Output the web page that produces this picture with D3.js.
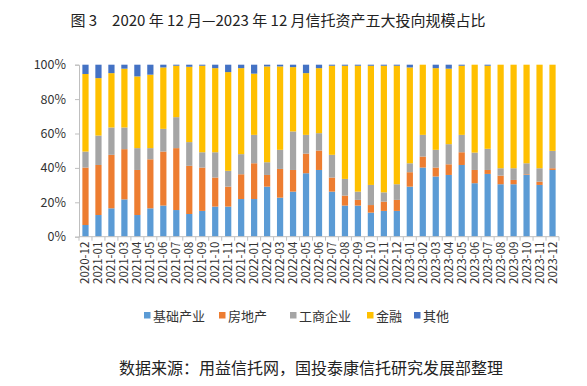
<!DOCTYPE html>
<html>
<head>
<meta charset="utf-8">
<script src="https://cdn.jsdelivr.net/npm/d3@7/dist/d3.min.js"></script>
<style>
html,body{margin:0;padding:0;background:#fff;}
svg{display:block;font-family:"Noto Sans CJK SC","Noto Sans",sans-serif;}
</style>
</head>
<body>
<svg id="chart" width="587" height="386"></svg>
<script>
const months = ["2020-12","2021-01","2021-02","2021-03","2021-04","2021-05","2021-06","2021-07","2021-08","2021-09","2021-10","2021-11","2021-12","2022-01","2022-02","2022-03","2022-04","2022-05","2022-06","2022-07","2022-08","2022-09","2022-10","2022-11","2022-12","2023-01","2023-02","2023-03","2023-04","2023-05","2023-06","2023-07","2023-08","2023-09","2023-10","2023-11","2023-12"];
const seriesNames = ["基础产业","房地产","工商企业","金融","其他"];
const basic    = [6.8,12.6,16.5,21.7,12.6,16.5,18.1,15.5,13.2,15.0,17.5,17.5,21.9,21.9,29.1,22.7,26.2,36.9,38.8,26.2,18.1,18.1,14.0,15.0,15.0,29.1,40.2,35.0,35.9,41.7,31.1,36.5,30.5,30.5,35.9,30.1,38.8];
const realty   = [33.4,29.1,31.1,29.2,26.2,28.5,31.4,36.0,28.0,25.2,16.9,11.6,14.4,20.8,6.8,16.7,12.6,11.4,11.3,8.2,5.8,3.3,4.4,5.4,6.4,8.4,6.4,5.2,6.2,7.4,7.7,2.3,5.0,2.5,0.4,1.9,1.0];
const industry = [9.3,17.1,15.9,12.6,12.7,6.5,13.2,18.0,13.8,8.9,14.7,9.2,11.7,16.5,7.4,11.1,22.4,10.9,10.1,13.2,9.7,4.8,11.7,5.4,9.1,5.2,12.6,10.3,11.7,10.1,10.1,12.3,4.3,6.8,6.4,7.8,10.1];
const finance  = [45.1,33.4,31.6,34.2,41.7,42.7,35.7,29.9,43.8,50.3,48.9,57.4,50.0,35.6,55.7,48.5,37.4,35.9,37.8,51.8,65.8,73.2,69.3,73.6,68.9,55.7,40.8,47.5,43.9,40.2,51.1,48.3,60.2,60.2,57.3,60.2,50.1];
const other    = [5.4,7.8,4.9,2.3,6.8,5.8,1.6,0.6,1.2,0.6,2.0,4.3,2.0,5.2,1.0,1.0,1.4,4.9,2.0,0.6,0.6,0.6,0.6,0.6,0.6,1.6,0.0,2.0,2.3,0.6,0.0,0.6,0.0,0.0,0.0,0.0,0.0];
const yTicks = [0,20,40,60,80,100];
const colors = ["#5B9BD5","#ED7D31","#A5A5A5","#FFC000","#4472C4"];
const titleText = "图 3　2020 年 12 月—2023 年 12 月信托资产五大投向规模占比";
const sourceText = "数据来源：用益信托网，国投泰康信托研究发展部整理";

const seriesArrays = [basic, realty, industry, finance, other];
const table = months.map((m,i)=>{
  const row = {month:m};
  seriesNames.forEach((s,j)=>row[s]=seriesArrays[j][i]);
  return row;
});

const svg = d3.select("#chart");
const L=79, R=559, T=64.7, B=236.7;

const x = d3.scaleBand().domain(months).range([L,R]).paddingInner(0.52).paddingOuter(0.26);
const y = d3.scaleLinear().domain([0,100]).range([B,T]);

const stack = d3.stack().keys(seriesNames);
const stacked = stack(table);

svg.append("text").attr("x",278).attr("y",26).attr("text-anchor","middle")
  .attr("font-size",15).attr("fill","#222").text(titleText);

const g = svg.append("g");
g.selectAll("g.s").data(stacked).join("g").attr("fill",(d,i)=>colors[i])
  .selectAll("rect").data(d=>d).join("rect")
  .attr("x",d=>x(d.data.month)).attr("width",x.bandwidth())
  .attr("y",d=>y(d[1])).attr("height",d=>Math.max(0,y(d[0])-y(d[1])));

// y axis
const yAxis = d3.axisLeft(y).tickValues(yTicks).tickFormat(d=>d+"%").tickSize(4).tickPadding(9);
const ya = svg.append("g").attr("transform",`translate(${L},0)`).call(yAxis);
ya.select(".domain").attr("stroke","#BFBFBF");
ya.selectAll(".tick line").attr("stroke","#BFBFBF");
ya.selectAll(".tick text").attr("font-size",12.5).attr("fill","#333").attr("font-family","'Noto Sans CJK SC',sans-serif");

// x axis
const xa = svg.append("g").attr("transform",`translate(0,${B})`);
xa.append("line").attr("x1",L).attr("x2",R).attr("stroke","#BFBFBF");
const step = x.step();
const bounds = months.map((m,i)=>L + x.paddingOuter()*0 + i*0).slice(0,0);
const tickPos = d3.range(months.length+1).map(i=> i===0?L:(i===months.length?R:(x(months[i]) - (x.step()-x.bandwidth())/2)));
xa.selectAll("line.t").data(tickPos).join("line").attr("class","t")
  .attr("x1",d=>d).attr("x2",d=>d).attr("y1",0).attr("y2",4).attr("stroke","#BFBFBF");
xa.selectAll("text").data(months).join("text")
  .attr("transform",d=>`translate(${x(d)+x.bandwidth()/2+4},5) rotate(-90)`)
  .attr("text-anchor","end").attr("font-size",11.5).attr("fill","#333")
  .text(d=>d);

// legend
const legendX = [144,219,290,367,414];
const lg = svg.append("g");
seriesNames.forEach((s,i)=>{
  lg.append("rect").attr("x",legendX[i]).attr("y",312).attr("width",6.5).attr("height",6.5).attr("fill",colors[i]);
  lg.append("text").attr("x",legendX[i]+9).attr("y",320.5).attr("font-size",13).attr("fill","#333").text(s);
});

svg.append("text").attr("x",311).attr("y",374).attr("text-anchor","middle")
  .attr("font-size",16).attr("fill","#222").text(sourceText);
</script>
</body>
</html>
